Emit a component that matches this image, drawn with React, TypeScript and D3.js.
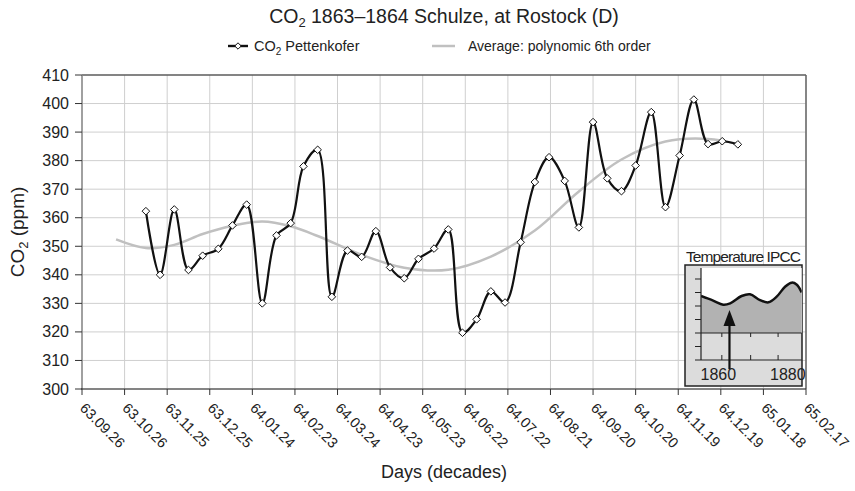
import React from 'react';
import * as d3 from 'd3';

const W = 855;
const H = 491;

// X axis: 30-day steps from start to end
const axisStart = '1863-09-26';
const axisEnd = '1865-02-17';
const axisStepDays = 30;
const axisSteps = 17;

const yTicks = [300, 310, 320, 330, 340, 350, 360, 370, 380, 390, 400, 410];

// CO2 Pettenkofer (decade values)
const co2Dates = [
  '1863-11-10', '1863-11-20', '1863-11-30', '1863-12-10', '1863-12-20', '1863-12-31',
  '1864-01-10', '1864-01-20', '1864-01-31', '1864-02-10', '1864-02-20', '1864-02-29',
  '1864-03-10', '1864-03-20', '1864-03-31', '1864-04-10', '1864-04-20', '1864-04-30',
  '1864-05-10', '1864-05-20', '1864-05-31', '1864-06-10', '1864-06-20', '1864-06-30',
  '1864-07-10', '1864-07-20', '1864-07-31', '1864-08-10', '1864-08-20', '1864-08-31',
  '1864-09-10', '1864-09-20', '1864-09-30', '1864-10-10', '1864-10-20', '1864-10-31',
  '1864-11-10', '1864-11-20', '1864-11-30', '1864-12-10', '1864-12-20', '1864-12-31',
];
const co2Values = [
  362.3, 340.0, 362.9, 341.7, 346.7, 349.1,
  357.3, 364.6, 330.0, 353.8, 358.1, 378.0,
  383.8, 332.3, 348.5, 346.3, 355.3, 342.6,
  338.8, 345.6, 349.2, 355.9, 319.7, 324.4,
  334.2, 330.3, 351.4, 372.5, 381.2, 372.9,
  356.6, 393.5, 373.8, 369.3, 378.3, 397.0,
  363.7, 381.8, 401.4, 385.8, 386.8, 385.7,
];

// Average: polynomic 6th order
const trendDates = [
  '1863-10-20', '1863-11-10', '1863-11-30', '1863-12-20', '1864-01-10', '1864-01-31',
  '1864-02-20', '1864-03-10', '1864-04-10', '1864-05-10', '1864-06-10', '1864-07-10',
  '1864-08-10', '1864-09-10', '1864-10-10', '1864-11-10', '1864-12-10', '1864-12-31',
];
const trendValues = [
  352.4, 349.4, 350.5, 354.3, 357.2, 358.7,
  357.0, 353.6, 347.0, 342.5, 341.8, 346.4,
  355.5, 369.2, 380.4, 386.7, 387.6, 385.8,
];

// Inset: Temperature IPCC
const insetYears = [1855, 1858.5, 1861.4, 1863.4, 1866.7, 1869.1, 1872, 1874.4, 1876.8, 1879.2, 1881.1, 1882.6, 1884];
const insetTemps = [-0.126, -0.16, -0.19, -0.18, -0.126, -0.113, -0.156, -0.173, -0.131, -0.057, -0.027, -0.042, -0.1];
const insetYTicks = [-0.6, -0.5, -0.4, -0.3, -0.2, -0.1, 0.0];
const insetXTicks = [1861, 1869.3, 1877.2];
const insetLabels = [1860, 1880];
const insetArrowYear = 1863.2;

const parse = d3.utcParse('%Y-%m-%d');
const fmt = d3.utcFormat('%y.%m.%d');

const FONT = '"Liberation Sans", Arial, Helvetica, sans-serif';

export default function App() {
  const m = { left: 82, right: 806, top: 75, bottom: 389 };
  const t0 = parse(axisStart)!;
  const t1 = parse(axisEnd)!;
  const x = d3.scaleUtc().domain([t0, t1]).range([m.left, m.right]);
  const y = d3.scaleLinear().domain([300, 410]).range([m.bottom, m.top]);
  const xTicks = d3.range(axisSteps + 1).map((i) => d3.utcDay.offset(t0, i * axisStepDays));

  const co2 = co2Dates.map((d, i) => ({ d: parse(d)!, v: co2Values[i] }));
  const trend = trendDates.map((d, i) => ({ d: parse(d)!, v: trendValues[i] }));

  const line = d3
    .line<{ d: Date; v: number }>()
    .x((p) => x(p.d))
    .y((p) => y(p.v))
    .curve(d3.curveCatmullRom.alpha(0.5));
  const trendLine = d3
    .line<{ d: Date; v: number }>()
    .x((p) => x(p.d))
    .y((p) => y(p.v))
    .curve(d3.curveCatmullRom.alpha(0.5));

  const diamond = (cx: number, cy: number, r = 3.8) =>
    `M${cx},${cy - r}L${cx + r},${cy}L${cx},${cy + r}L${cx - r},${cy}Z`;

  // inset
  const ix = d3.scaleLinear().domain([1855, 1884]).range([701, 801.7]);
  const iy = d3.scaleLinear().domain([-0.6, 0]).range([360, 279]);
  const ipts = insetYears.map((yr, i) => [ix(yr), iy(insetTemps[i])] as [number, number]);
  const iLine = d3.line().curve(d3.curveCatmullRom.alpha(0.5))(ipts) as string;
  const iArea = d3
    .area<[number, number]>()
    .x((p) => p[0])
    .y0(iy(-0.4))
    .y1((p) => p[1])
    .curve(d3.curveCatmullRom.alpha(0.5))(ipts) as string;
  const ax = ix(insetArrowYear);

  return (
    <svg
      width={W}
      height={H}
      style={{ position: 'absolute', left: 0, top: 0, background: '#fff' }}
      fontFamily={FONT}
    >
      <rect x={0} y={0} width={W} height={H} fill="#fff" />
      {/* Title */}
      <text x={444} y={23} textAnchor="middle" fontSize={19.5} fill="#222">
        CO<tspan dy={4} fontSize={13}>2</tspan>
        <tspan dy={-4}> 1863–1864 Schulze, at Rostock (D)</tspan>
      </text>

      {/* Legend */}
      <g>
        <line x1={228} x2={248} y1={46} y2={46} stroke="#111" strokeWidth={2.4} />
        <path d={diamond(238, 46, 3.2)} fill="#fff" stroke="#111" strokeWidth={1} />
        <text x={254} y={51} fontSize={14.5} fill="#222">
          CO<tspan dy={4} fontSize={10}>2</tspan>
          <tspan dy={-4}> Pettenkofer</tspan>
        </text>
        <line x1={432} x2={455} y1={46} y2={46} stroke="#c0c0c0" strokeWidth={2.5} />
        <text x={468} y={51} fontSize={14} fill="#222">
          Average: polynomic 6th order
        </text>
      </g>

      {/* Grid */}
      <g stroke="#cfcfcf" strokeWidth={1}>
        {yTicks.map((t) => (
          <line key={'gy' + t} x1={m.left} x2={m.right} y1={y(t)} y2={y(t)} />
        ))}
        {xTicks.map((t, i) => (
          <line key={'gx' + i} x1={x(t)} x2={x(t)} y1={m.top} y2={m.bottom} />
        ))}
      </g>
      {/* Frame */}
      <line x1={m.left} x2={m.right} y1={m.top} y2={m.top} stroke="#222" strokeWidth={1.2} />
      <line x1={m.right} x2={m.right} y1={m.top} y2={m.bottom} stroke="#666" strokeWidth={1.5} />
      <line x1={m.left} x2={m.left} y1={m.top} y2={m.bottom} stroke="#888" strokeWidth={1.5} />
      <line x1={m.left - 1} x2={m.right} y1={m.bottom} y2={m.bottom} stroke="#222" strokeWidth={1.2} />

      {/* Y ticks */}
      {yTicks.map((t) => (
        <g key={'yt' + t}>
          <line x1={m.left - 7} x2={m.left} y1={y(t)} y2={y(t)} stroke="#333" strokeWidth={1} />
          <text x={m.left - 13} y={y(t) + 5.5} textAnchor="end" fontSize={16} fill="#222">
            {t}
          </text>
        </g>
      ))}
      {/* X ticks */}
      {xTicks.map((t, i) => (
        <g key={'xt' + i}>
          <line x1={x(t)} x2={x(t)} y1={m.bottom} y2={m.bottom + 6} stroke="#333" strokeWidth={1} />
          <text
            transform={`translate(${x(t) - 3},${m.bottom + 20}) rotate(45)`}
            fontSize={14.5}
            fill="#222"
          >
            {fmt(t)}
          </text>
        </g>
      ))}

      {/* Axis titles */}
      <text x={444} y={478} textAnchor="middle" fontSize={18} fill="#222">
        Days (decades)
      </text>
      <text transform="translate(24,232) rotate(-90)" textAnchor="middle" fontSize={19} fill="#222">
        CO<tspan dy={4} fontSize={13}>2</tspan>
        <tspan dy={-4}> (ppm)</tspan>
      </text>

      {/* Trend */}
      <path d={trendLine(trend)!} fill="none" stroke="#c0c0c0" strokeWidth={2.5} />
      {/* CO2 line */}
      <path d={line(co2)!} fill="none" stroke="#111" strokeWidth={2.2} />
      {co2.map((p, i) => (
        <path key={'m' + i} d={diamond(x(p.d), y(p.v))} fill="#fff" stroke="#111" strokeWidth={1} />
      ))}

      {/* Inset */}
      <g>
        <text x={743} y={262} textAnchor="middle" fontSize={15.5} letterSpacing={-0.9} fill="#222">
          Temperature IPCC
        </text>
        <rect x={685} y={265} width={117} height={121} fill="#dcdcdc" stroke="#222" strokeWidth={1.5} />
        <rect x={701} y={268} width={100.7} height={iy(-0.4) - 268} fill="#fff" />
        <defs>
          <clipPath id="insetClip">
            <rect x={701} y={268} width={100.7} height={92} />
          </clipPath>
        </defs>
        <g clipPath="url(#insetClip)">
          <path d={iArea} fill="#b2b2b2" />
          <path d={iLine} fill="none" stroke="#111" strokeWidth={2.5} />
        </g>
        <line x1={701} x2={801.7} y1={iy(-0.4)} y2={iy(-0.4)} stroke="#222" strokeWidth={1.2} />
        <line x1={701} x2={701} y1={268} y2={360} stroke="#222" strokeWidth={1.2} />
        <line x1={701} x2={801.7} y1={360} y2={360} stroke="#222" strokeWidth={1.2} />
        {insetYTicks.map((t) => (
          <line key={'iyt' + t} x1={695} x2={701} y1={iy(t)} y2={iy(t)} stroke="#222" strokeWidth={1} />
        ))}
        {insetXTicks.map((t) => (
          <g key={'ixt' + t}>
            <line x1={ix(t)} x2={ix(t)} y1={360} y2={355} stroke="#222" strokeWidth={1} />
            <line x1={ix(t)} x2={ix(t)} y1={iy(-0.4)} y2={iy(-0.4) + 4} stroke="#222" strokeWidth={1} />
          </g>
        ))}
        {insetLabels.map((t) => (
          <text key={'il' + t} x={ix(t)} y={380} textAnchor="middle" fontSize={16} fill="#222">
            {t}
          </text>
        ))}
        <line x1={ax} x2={ax} y1={369} y2={322} stroke="#111" strokeWidth={2.2} />
        <path d={`M${ax},310L${ax + 6},326L${ax - 6},326Z`} fill="#111" />
      </g>
    </svg>
  );
}
